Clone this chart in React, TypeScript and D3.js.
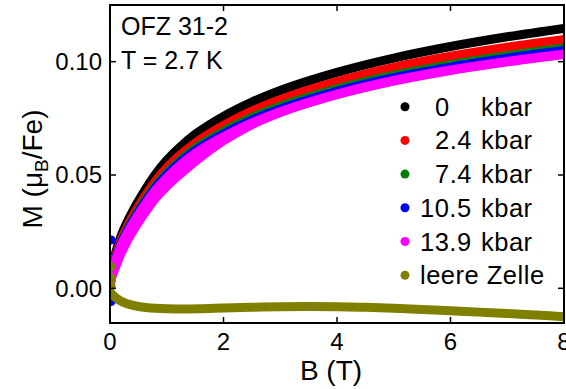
import React from "react";
import * as d3 from "d3";

// Magnetisation M (µB/Fe) vs field B (T) at several pressures
const fieldB = [0, 0.05, 0.1, 0.2, 0.3, 0.45, 0.6, 0.8, 1.0, 1.25, 1.5, 2.0, 2.5, 3.0, 4.0, 5.0, 6.0, 7.0, 8.0];
const m0kbar = [0.002, 0.0107, 0.0157, 0.0234, 0.0291, 0.0363, 0.0427, 0.0503, 0.0565, 0.0627, 0.0679, 0.0759, 0.0822, 0.0873, 0.0953, 0.1016, 0.1067, 0.111, 0.1147];
const m2p4kbar = [0.0015, 0.0097, 0.0144, 0.0217, 0.0271, 0.034, 0.0401, 0.0473, 0.0532, 0.0591, 0.0641, 0.0719, 0.0782, 0.0832, 0.0912, 0.0975, 0.1024, 0.1064, 0.1098];
const m7p4kbar = [0.001, 0.009, 0.0135, 0.0206, 0.0258, 0.0324, 0.0383, 0.0453, 0.051, 0.0569, 0.0618, 0.0693, 0.0754, 0.0803, 0.088, 0.094, 0.0987, 0.1026, 0.106];
const m10p5kbar = [0.0008, 0.0087, 0.0131, 0.02, 0.0251, 0.0316, 0.0374, 0.0444, 0.05, 0.0559, 0.0607, 0.0681, 0.0742, 0.0791, 0.0869, 0.0929, 0.0976, 0.1015, 0.1049];
const m13p9kbarUp = [0.0005, 0.0082, 0.0125, 0.0192, 0.0242, 0.0306, 0.0363, 0.0433, 0.0488, 0.0547, 0.0595, 0.0669, 0.073, 0.0779, 0.0857, 0.0917, 0.0963, 0.1001, 0.1034];
const m13p9kbarDown = [0.003, 0.0062, 0.0095, 0.0157, 0.0207, 0.0271, 0.0328, 0.0397, 0.045, 0.0507, 0.056, 0.0651, 0.0722, 0.0775, 0.0854, 0.0914, 0.0961, 0.0999, 0.1032];

// Empty pressure cell background
const cellB = [0, 0.05, 0.15, 0.3, 0.5, 0.8, 1.2, 1.6, 2.0, 2.5, 3.0, 3.5, 4.0, 4.5, 5.0, 5.5, 6.0, 6.5, 7.0, 7.5, 8.0];
const cellM = [-0.0015, -0.003, -0.005, -0.0068, -0.008, -0.0088, -0.0091, -0.009, -0.0087, -0.0084, -0.0081, -0.008, -0.0081, -0.0084, -0.0088, -0.0093, -0.0099, -0.0105, -0.0111, -0.0118, -0.0125];

// Stray points at zero field
const blueStrayB = [0.02, 0.02];
const blueStrayM = [0.0213, -0.0058];
const cellStrayB = [0.02, 0.03, 0.02];
const cellStrayM = [0.0095, 0.0045, 0.001];

const legendNumbers = ["0", "2.4", "7.4", "10.5", "13.9"];
const legendColors = ["#000000", "#ff0000", "#008000", "#0000ff", "#ff00ff", "#808000"];
const xTicks = [0, 2, 4, 6, 8];
const yTicks = [0.0, 0.05, 0.1];

const W = 566;
const H = 389;
const left = 110;
const right = 564;
const top = 5;
const bottom = 323;

export default function App() {
  const x = d3.scaleLinear().domain([0, 8]).range([left, right]);
  const y = d3.scaleLinear().domain([-0.0153, 0.125]).range([bottom, top]);

  const line = d3
    .line<[number, number]>()
    .x((d) => x(d[0]))
    .y((d) => y(d[1]))
    .curve(d3.curveMonotoneX);

  const zip = (bs: number[], ms: number[]) => bs.map((b, i) => [b, ms[i]] as [number, number]);

  const series = [
    { data: zip(fieldB, m0kbar), color: legendColors[0] },
    { data: zip(fieldB, m2p4kbar), color: legendColors[1] },
    { data: zip(fieldB, m7p4kbar), color: legendColors[2] },
    { data: zip(fieldB, m10p5kbar), color: legendColors[3] },
    { data: zip(fieldB, m13p9kbarUp), color: legendColors[4] },
    { data: zip(fieldB, m13p9kbarDown), color: legendColors[4] },
  ];

  const font = "'Liberation Sans', Arial, sans-serif";
  const legendY0 = 106.7;
  const legendStep = 33.7;
  const legendFont = 25.5;

  return (
    <svg
      width={W}
      height={H}
      style={{ position: "absolute", left: 0, top: 0, background: "#fff" }}
      fontFamily={font}
    >
      <defs>
        <clipPath id="plotArea">
          <rect x={left} y={top} width={right - left} height={bottom - top} />
        </clipPath>
      </defs>

      <g clipPath="url(#plotArea)">
        {series.map((s, i) => (
          <path
            key={i}
            d={line(s.data) || ""}
            fill="none"
            stroke={s.color}
            strokeWidth={9}
            strokeLinecap="round"
            strokeLinejoin="round"
          />
        ))}
        {blueStrayB.map((b, i) => (
          <circle key={"bs" + i} cx={x(b)} cy={y(blueStrayM[i])} r={4.5} fill={legendColors[3]} />
        ))}
        <path
          d={line(zip(cellB, cellM)) || ""}
          fill="none"
          stroke={legendColors[5]}
          strokeWidth={9}
          strokeLinecap="round"
          strokeLinejoin="round"
        />
        {cellStrayB.map((b, i) => (
          <circle key={"cs" + i} cx={x(b)} cy={y(cellStrayM[i])} r={4.5} fill={legendColors[5]} />
        ))}
      </g>

      {/* frame */}
      <rect
        x={left}
        y={top}
        width={right - left}
        height={bottom - top}
        fill="none"
        stroke="#000"
        strokeWidth={2}
      />

      {/* x ticks, inward on bottom and top */}
      {xTicks.map((t) => (
        <g key={"x" + t}>
          <line x1={x(t)} x2={x(t)} y1={bottom} y2={bottom - 6} stroke="#000" strokeWidth={1.5} />
          <line x1={x(t)} x2={x(t)} y1={top} y2={top + 6} stroke="#000" strokeWidth={1.5} />
          <text x={x(t)} y={350} textAnchor="middle" fontSize={24}>
            {t}
          </text>
        </g>
      ))}

      {/* y ticks, inward on left and right */}
      {yTicks.map((t) => (
        <g key={"y" + t}>
          <line x1={left} x2={left + 6} y1={y(t)} y2={y(t)} stroke="#000" strokeWidth={1.5} />
          <line x1={right} x2={right - 6} y1={y(t)} y2={y(t)} stroke="#000" strokeWidth={1.5} />
          <text x={102} y={y(t) + 8.5} textAnchor="end" fontSize={24}>
            {d3.format(".2f")(t)}
          </text>
        </g>
      ))}

      {/* axis titles */}
      <text x={(left + right) / 2 - 6} y={380} textAnchor="middle" fontSize={28}>
        B (T)
      </text>
      <text transform="translate(42,169) rotate(-90)" textAnchor="middle" fontSize={28}>
        M (μ
        <tspan fontSize={19} dy={6}>
          B
        </tspan>
        <tspan dy={-6}>/Fe)</tspan>
      </text>

      {/* sample annotation */}
      <text x={121} y={35} fontSize={25}>
        OFZ 31-2
      </text>
      <text x={121} y={69} fontSize={25}>
        T = 2.7 K
      </text>

      {/* legend */}
      {legendColors.map((c, i) => {
        const cy = legendY0 + i * legendStep;
        return (
          <g key={"lg" + i} fontSize={legendFont} letterSpacing={0.5}>
            <circle cx={405} cy={cy} r={4.5} fill={c} />
            {i < legendNumbers.length ? (
              <>
                <text x={i < 3 ? 435 : 420} y={cy + 9}>
                  {legendNumbers[i]}
                </text>
                <text x={481} y={cy + 9}>
                  kbar
                </text>
              </>
            ) : (
              <text x={420} y={cy + 9}>
                leere Zelle
              </text>
            )}
          </g>
        );
      })}
    </svg>
  );
}
